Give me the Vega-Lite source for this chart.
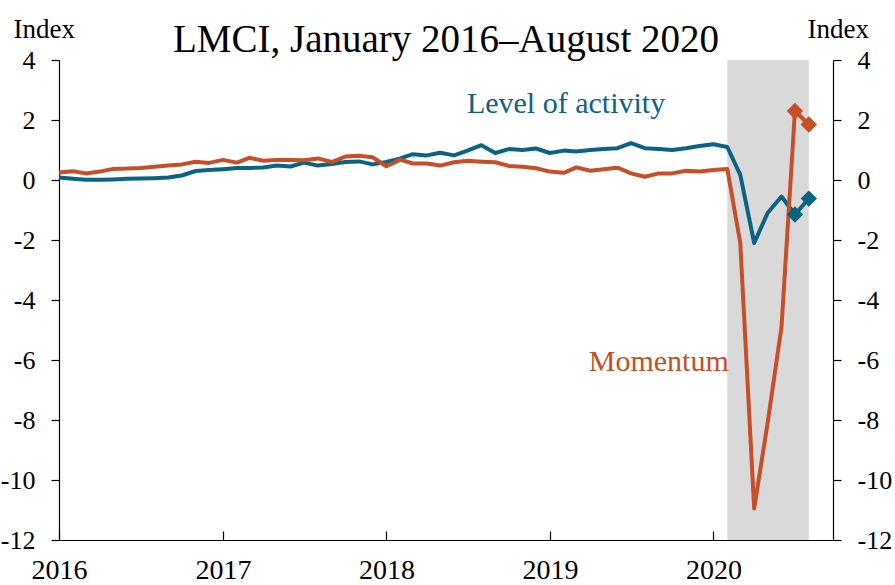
{
  "$schema": "https://vega.github.io/schema/vega-lite/v6.json",
  "width": 774,
  "height": 480,
  "autosize": {"type": "none"},
  "padding": {"left": 59, "top": 60, "right": 62, "bottom": 45},
  "background": "white",
  "config": {
    "font": "Liberation Serif",
    "view": {"stroke": null},
    "axis": {
      "grid": false,
      "domainColor": "black",
      "tickColor": "black",
      "labelColor": "black",
      "titleColor": "black",
      "labelFont": "Liberation Serif",
      "titleFont": "Liberation Serif",
      "labelFontSize": 26,
      "titleFontSize": 27,
      "titleFontWeight": "normal",
      "domainWidth": 1.2,
      "tickWidth": 1.2
    }
  },
  "title": {
    "text": "LMCI, January 2016–August 2020",
    "fontSize": 39,
    "font": "Liberation Serif",
    "fontWeight": "normal",
    "color": "black",
    "anchor": "middle",
    "baseline": "alphabetic",
    "offset": 8,
    "dy": 84
  },
  "datasets": {
    "series": [
      {"date": "2016-01-01", "series": "Level of activity", "value": 0.08},
      {"date": "2016-02-01", "series": "Level of activity", "value": 0.04},
      {"date": "2016-03-01", "series": "Level of activity", "value": 0.01},
      {"date": "2016-04-01", "series": "Level of activity", "value": 0.01},
      {"date": "2016-05-01", "series": "Level of activity", "value": 0.02},
      {"date": "2016-06-01", "series": "Level of activity", "value": 0.04},
      {"date": "2016-07-01", "series": "Level of activity", "value": 0.05},
      {"date": "2016-08-01", "series": "Level of activity", "value": 0.06},
      {"date": "2016-09-01", "series": "Level of activity", "value": 0.08},
      {"date": "2016-10-01", "series": "Level of activity", "value": 0.15},
      {"date": "2016-11-01", "series": "Level of activity", "value": 0.3},
      {"date": "2016-12-01", "series": "Level of activity", "value": 0.33},
      {"date": "2017-01-01", "series": "Level of activity", "value": 0.36},
      {"date": "2017-02-01", "series": "Level of activity", "value": 0.4},
      {"date": "2017-03-01", "series": "Level of activity", "value": 0.4},
      {"date": "2017-04-01", "series": "Level of activity", "value": 0.42},
      {"date": "2017-05-01", "series": "Level of activity", "value": 0.48},
      {"date": "2017-06-01", "series": "Level of activity", "value": 0.45},
      {"date": "2017-07-01", "series": "Level of activity", "value": 0.58},
      {"date": "2017-08-01", "series": "Level of activity", "value": 0.48},
      {"date": "2017-09-01", "series": "Level of activity", "value": 0.53},
      {"date": "2017-10-01", "series": "Level of activity", "value": 0.6},
      {"date": "2017-11-01", "series": "Level of activity", "value": 0.62},
      {"date": "2017-12-01", "series": "Level of activity", "value": 0.52},
      {"date": "2018-01-01", "series": "Level of activity", "value": 0.6},
      {"date": "2018-02-01", "series": "Level of activity", "value": 0.72},
      {"date": "2018-03-01", "series": "Level of activity", "value": 0.86},
      {"date": "2018-04-01", "series": "Level of activity", "value": 0.82},
      {"date": "2018-05-01", "series": "Level of activity", "value": 0.91},
      {"date": "2018-06-01", "series": "Level of activity", "value": 0.82},
      {"date": "2018-07-01", "series": "Level of activity", "value": 0.98},
      {"date": "2018-08-01", "series": "Level of activity", "value": 1.16},
      {"date": "2018-09-01", "series": "Level of activity", "value": 0.9},
      {"date": "2018-10-01", "series": "Level of activity", "value": 1.03},
      {"date": "2018-11-01", "series": "Level of activity", "value": 1.0},
      {"date": "2018-12-01", "series": "Level of activity", "value": 1.05},
      {"date": "2019-01-01", "series": "Level of activity", "value": 0.9},
      {"date": "2019-02-01", "series": "Level of activity", "value": 0.98},
      {"date": "2019-03-01", "series": "Level of activity", "value": 0.95},
      {"date": "2019-04-01", "series": "Level of activity", "value": 1.0},
      {"date": "2019-05-01", "series": "Level of activity", "value": 1.03},
      {"date": "2019-06-01", "series": "Level of activity", "value": 1.06},
      {"date": "2019-07-01", "series": "Level of activity", "value": 1.23},
      {"date": "2019-08-01", "series": "Level of activity", "value": 1.06},
      {"date": "2019-09-01", "series": "Level of activity", "value": 1.03},
      {"date": "2019-10-01", "series": "Level of activity", "value": 1.0},
      {"date": "2019-11-01", "series": "Level of activity", "value": 1.06},
      {"date": "2019-12-01", "series": "Level of activity", "value": 1.13},
      {"date": "2020-01-01", "series": "Level of activity", "value": 1.19},
      {"date": "2020-02-01", "series": "Level of activity", "value": 1.1},
      {"date": "2020-03-01", "series": "Level of activity", "value": 0.17},
      {"date": "2020-04-01", "series": "Level of activity", "value": -2.1},
      {"date": "2020-05-01", "series": "Level of activity", "value": -1.1},
      {"date": "2020-06-01", "series": "Level of activity", "value": -0.55},
      {"date": "2020-07-01", "series": "Level of activity", "value": -1.15},
      {"date": "2020-08-01", "series": "Level of activity", "value": -0.62},
      {"date": "2016-01-01", "series": "Momentum", "value": 0.25},
      {"date": "2016-02-01", "series": "Momentum", "value": 0.29},
      {"date": "2016-03-01", "series": "Momentum", "value": 0.22},
      {"date": "2016-04-01", "series": "Momentum", "value": 0.28},
      {"date": "2016-05-01", "series": "Momentum", "value": 0.37},
      {"date": "2016-06-01", "series": "Momentum", "value": 0.38},
      {"date": "2016-07-01", "series": "Momentum", "value": 0.4},
      {"date": "2016-08-01", "series": "Momentum", "value": 0.44},
      {"date": "2016-09-01", "series": "Momentum", "value": 0.48},
      {"date": "2016-10-01", "series": "Momentum", "value": 0.52},
      {"date": "2016-11-01", "series": "Momentum", "value": 0.61},
      {"date": "2016-12-01", "series": "Momentum", "value": 0.57},
      {"date": "2017-01-01", "series": "Momentum", "value": 0.67},
      {"date": "2017-02-01", "series": "Momentum", "value": 0.58},
      {"date": "2017-03-01", "series": "Momentum", "value": 0.74},
      {"date": "2017-04-01", "series": "Momentum", "value": 0.64},
      {"date": "2017-05-01", "series": "Momentum", "value": 0.67},
      {"date": "2017-06-01", "series": "Momentum", "value": 0.67},
      {"date": "2017-07-01", "series": "Momentum", "value": 0.66},
      {"date": "2017-08-01", "series": "Momentum", "value": 0.72},
      {"date": "2017-09-01", "series": "Momentum", "value": 0.6},
      {"date": "2017-10-01", "series": "Momentum", "value": 0.78},
      {"date": "2017-11-01", "series": "Momentum", "value": 0.81},
      {"date": "2017-12-01", "series": "Momentum", "value": 0.76},
      {"date": "2018-01-01", "series": "Momentum", "value": 0.46},
      {"date": "2018-02-01", "series": "Momentum", "value": 0.68},
      {"date": "2018-03-01", "series": "Momentum", "value": 0.55},
      {"date": "2018-04-01", "series": "Momentum", "value": 0.55},
      {"date": "2018-05-01", "series": "Momentum", "value": 0.48},
      {"date": "2018-06-01", "series": "Momentum", "value": 0.59},
      {"date": "2018-07-01", "series": "Momentum", "value": 0.64},
      {"date": "2018-08-01", "series": "Momentum", "value": 0.61},
      {"date": "2018-09-01", "series": "Momentum", "value": 0.59},
      {"date": "2018-10-01", "series": "Momentum", "value": 0.47},
      {"date": "2018-11-01", "series": "Momentum", "value": 0.44},
      {"date": "2018-12-01", "series": "Momentum", "value": 0.39},
      {"date": "2019-01-01", "series": "Momentum", "value": 0.28},
      {"date": "2019-02-01", "series": "Momentum", "value": 0.24},
      {"date": "2019-03-01", "series": "Momentum", "value": 0.42},
      {"date": "2019-04-01", "series": "Momentum", "value": 0.31},
      {"date": "2019-05-01", "series": "Momentum", "value": 0.36},
      {"date": "2019-06-01", "series": "Momentum", "value": 0.41},
      {"date": "2019-07-01", "series": "Momentum", "value": 0.22},
      {"date": "2019-08-01", "series": "Momentum", "value": 0.11},
      {"date": "2019-09-01", "series": "Momentum", "value": 0.22},
      {"date": "2019-10-01", "series": "Momentum", "value": 0.22},
      {"date": "2019-11-01", "series": "Momentum", "value": 0.31},
      {"date": "2019-12-01", "series": "Momentum", "value": 0.28},
      {"date": "2020-01-01", "series": "Momentum", "value": 0.33},
      {"date": "2020-02-01", "series": "Momentum", "value": 0.37},
      {"date": "2020-03-01", "series": "Momentum", "value": -2.1},
      {"date": "2020-04-01", "series": "Momentum", "value": -10.95},
      {"date": "2020-05-01", "series": "Momentum", "value": -8.1},
      {"date": "2020-06-01", "series": "Momentum", "value": -4.9},
      {"date": "2020-07-01", "series": "Momentum", "value": 2.3},
      {"date": "2020-08-01", "series": "Momentum", "value": 1.85}
    ],
    "recession": [
      {"date": "2020-02-01", "end": "2020-08-01"}
    ],
    "labels": [
      {"date": "2019-02-06", "value": 2.23, "series": "Level of activity", "label": "Level of activity"},
      {"date": "2019-09-01", "value": -6.38, "series": "Momentum", "label": "Momentum"}
    ]
  },
  "resolve": {"axis": {"y": "independent"}},
  "layer": [
    {
      "data": {"name": "recession"},
      "mark": {"type": "rect", "color": "#d9d9d9"},
      "encoding": {
        "x": {
          "field": "date", "type": "temporal",
          "scale": {"type": "utc", "domain": [{"year": 2016, "month": 1, "date": 1, "utc": true}, {"year": 2020, "month": 9, "date": 24, "utc": true}]},
          "axis": {
            "tickCount": {"interval": "year", "step": 1},
            "format": "%Y",
            "tickSize": -9,
            "labelPadding": 25,
            "labelFlush": false,
            "labelFontSize": 28,
            "labelBaseline": "top",
            "title": null
          }
        },
        "x2": {"field": "end"}
      }
    },
    {
      "mark": {"type": "rule", "color": "black", "strokeWidth": 1.2},
      "encoding": {
        "y": {
          "datum": 0, "type": "quantitative",
          "scale": {"domain": [-12, 4], "nice": false, "zero": false},
          "axis": {
            "orient": "right",
            "values": [-12, -10, -8, -6, -4, -2, 0, 2, 4],
            "tickSize": 8,
            "labelPadding": 16,
            "labelBaseline": "middle",
            "labelExpr": "datum.value < 0 ? '-' + (-datum.value) : '' + datum.value",
            "title": "Index",
            "titleAngle": 0,
            "titleAlign": "left",
            "titleBaseline": "alphabetic",
            "titleX": -26,
            "titleY": -23
          }
        }
      }
    },
    {
      "data": {"name": "series"},
      "mark": {"type": "line", "strokeWidth": 4, "strokeJoin": "round"},
      "encoding": {
        "x": {
          "field": "date", "type": "temporal",
          "axis": {
            "tickCount": {"interval": "year", "step": 1},
            "format": "%Y",
            "tickSize": -9,
            "labelPadding": 25,
            "labelFlush": false,
            "labelFontSize": 28,
            "labelBaseline": "top",
            "title": null
          }
        },
        "y": {
          "field": "value", "type": "quantitative",
          "scale": {"domain": [-12, 4], "nice": false, "zero": false},
          "axis": {
            "orient": "left",
            "values": [-12, -10, -8, -6, -4, -2, 0, 2, 4],
            "tickSize": 8,
            "labelPadding": 16,
            "labelBaseline": "middle",
            "labelExpr": "datum.value < 0 ? '-' + (-datum.value) : '' + datum.value",
            "title": "Index",
            "titleAngle": 0,
            "titleAlign": "left",
            "titleBaseline": "alphabetic",
            "titleX": -46,
            "titleY": -23
          }
        },
        "color": {
          "field": "series", "type": "nominal",
          "scale": {"domain": ["Level of activity", "Momentum"], "range": ["#0b6384", "#c84e27"]},
          "legend": null
        }
      }
    },
    {
      "data": {"name": "series"},
      "transform": [{"filter": "time(datum.date) >= utc(2020, 6, 1)"}],
      "mark": {"type": "point", "shape": "diamond", "filled": true, "size": 270, "opacity": 1},
      "encoding": {
        "x": {"field": "date", "type": "temporal"},
        "y": {"field": "value", "type": "quantitative", "axis": null},
        "color": {"field": "series", "type": "nominal", "legend": null}
      }
    },
    {
      "data": {"name": "labels"},
      "mark": {"type": "text", "fontSize": 30, "font": "Liberation Serif", "align": "center", "baseline": "alphabetic"},
      "encoding": {
        "x": {"field": "date", "type": "temporal"},
        "y": {"field": "value", "type": "quantitative", "axis": null},
        "text": {"field": "label"},
        "color": {"field": "series", "type": "nominal", "legend": null}
      }
    }
  ]
}
